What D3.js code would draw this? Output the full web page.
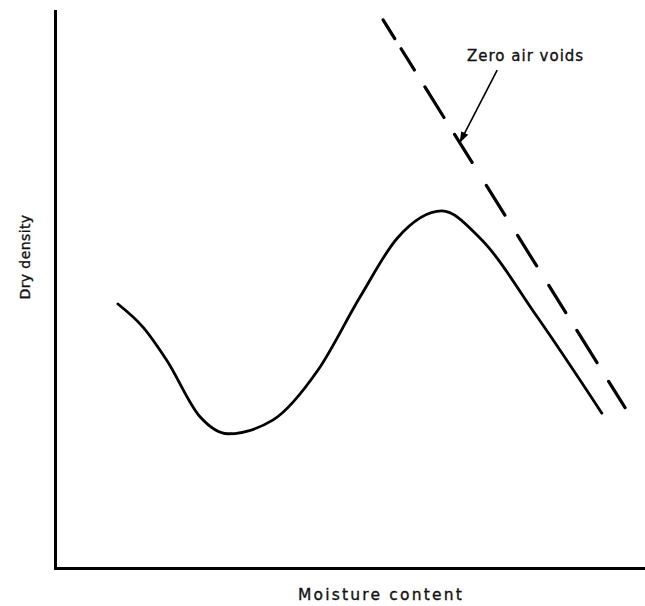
<!DOCTYPE html>
<html>
<head>
<meta charset="utf-8">
<script src="https://cdn.jsdelivr.net/npm/d3@7"></script>
<style>
  html, body { margin: 0; padding: 0; background: #fff; }
  svg { display: block; }
  text { font-family: "DejaVu Sans", sans-serif; fill: #111; stroke: #111; stroke-width: 0.35px; }
</style>
</head>
<body>
<svg id="chart" width="645" height="606"></svg>
<script>
// Compaction curve (arbitrary units, 0-100 on both axes)
const moisture = [10.7, 15.0, 19.0, 24.7, 29.4, 37.1, 44.7, 51.9, 58.2, 65.8, 72.3, 82.0, 93.0];
const dryDensity = [47.4, 43.2, 37.3, 27.1, 24.1, 26.6, 35.5, 48.7, 59.2, 64.1, 59.2, 45.1, 27.8];
// Zero air voids line (end points)
const zavMoisture = [55.8, 97.3];
const zavDensity = [98.4, 28.2];
// Annotation
const annotationText = "Zero air voids";
const arrowFrom = [75.2, 89.4];
const arrowTo = [68.9, 76.5];
const xLabel = "Moisture content";
const yLabel = "Dry density";

const svg = d3.select("#chart");
const x = d3.scaleLinear().domain([0, 100]).range([55, 643]);
const y = d3.scaleLinear().domain([0, 100]).range([568, 11]);

// Axes (no ticks)
const xAxis = svg.append("g").attr("transform", `translate(0,${y(0)})`)
  .call(d3.axisBottom(x).ticks(0).tickSize(0).tickSizeOuter(0));
const yAxis = svg.append("g").attr("transform", `translate(${x(0)},0)`)
  .call(d3.axisLeft(y).ticks(0).tickSize(0).tickSizeOuter(0));
[xAxis, yAxis].forEach(g => {
  g.select(".domain").attr("stroke", "#000").attr("stroke-width", 3).attr("stroke-linecap", "square");
  g.selectAll("text").remove();
});

// Compaction curve
const curveData = moisture.map((m, i) => [m, dryDensity[i]]);
svg.append("path")
  .datum(curveData)
  .attr("fill", "none")
  .attr("stroke", "#000")
  .attr("stroke-width", 2.8)
  .attr("stroke-linecap", "round")
  .attr("d", d3.line().x(d => x(d[0])).y(d => y(d[1])).curve(d3.curveMonotoneX));

// Zero air voids dashed line
const zavData = zavMoisture.map((m, i) => [m, zavDensity[i]]);
svg.append("path")
  .datum(zavData)
  .attr("fill", "none")
  .attr("stroke", "#000")
  .attr("stroke-width", 3.2)
  .attr("stroke-linecap", "round")
  .attr("stroke-dasharray", "22,12,25,20,36,20,33,27,35,24,36,23,32,21,38,22,31,40")
  .attr("d", d3.line().x(d => x(d[0])).y(d => y(d[1])));

// Arrow
const defs = svg.append("defs");
defs.append("marker")
  .attr("id", "arrowhead")
  .attr("viewBox", "0 0 10 10")
  .attr("refX", 9).attr("refY", 5)
  .attr("markerWidth", 7).attr("markerHeight", 7)
  .attr("markerUnits", "strokeWidth")
  .attr("orient", "auto")
  .append("path").attr("d", "M0,1.5 L10,5 L0,8.5 Z").attr("fill", "#000");

svg.append("line")
  .attr("x1", x(arrowFrom[0])).attr("y1", y(arrowFrom[1]))
  .attr("x2", x(arrowTo[0])).attr("y2", y(arrowTo[1]))
  .attr("stroke", "#000").attr("stroke-width", 1.6)
  .attr("marker-end", "url(#arrowhead)");

svg.append("text")
  .attr("x", 467).attr("y", 61)
  .attr("font-size", 15)
  .attr("letter-spacing", 1)
  .text(annotationText);

// Axis labels
svg.append("text")
  .attr("x", 381).attr("y", 600)
  .attr("text-anchor", "middle")
  .attr("font-size", 15.5)
  .attr("letter-spacing", 2.2)
  .text(xLabel);

svg.append("text")
  .attr("transform", "translate(30,257) rotate(-90)")
  .attr("text-anchor", "middle")
  .attr("font-size", 14)
  .attr("letter-spacing", 0.4)
  .text(yLabel);
</script>
</body>
</html>
